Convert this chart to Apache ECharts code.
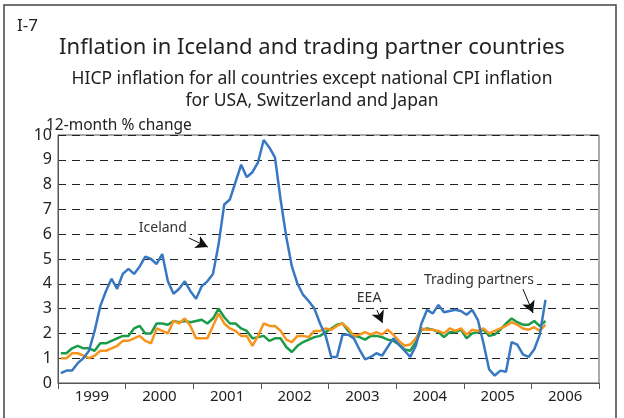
<!DOCTYPE html>
<html>
<head>
<meta charset="utf-8">
<script src="https://cdn.jsdelivr.net/npm/echarts@6/dist/echarts.min.js"></script>
<style>
  html, body { margin: 0; padding: 0; background: #fff; }
  #chart { width: 624px; height: 418px; }
</style>
</head>
<body>
<div id="chart"></div>
<script>
// years shown on the x axis
const years = ['1999', '2000', '2001', '2002', '2003', '2004', '2005', '2006'];
const yTicks = [0, 1, 2, 3, 4, 5, 6, 7, 8, 9, 10];

// monthly values, Jan 1999 - Mar 2006
const iceland = [
  0.4, 0.5, 0.5, 0.8, 1.0, 1.3, 2.1, 3.1, 3.7, 4.2,
  3.8, 4.4, 4.6, 4.4, 4.7, 5.1, 5.0, 4.8, 5.2, 4.1,
  3.6, 3.8, 4.1, 3.7, 3.4, 3.9, 4.1, 4.4, 5.6, 7.2,
  7.4, 8.1, 8.8, 8.3, 8.5, 8.9, 9.8, 9.5, 9.1, 7.4,
  5.9, 4.7, 4.0, 3.55, 3.3, 3.0, 2.4, 1.9, 1.05, 1.05,
  1.95, 1.95, 1.8, 1.35, 0.95, 1.05, 1.2, 1.1, 1.45, 1.8,
  1.55, 1.3, 1.05, 1.5, 2.4, 2.95, 2.8, 3.15, 2.85, 2.9,
  2.95, 2.9, 2.75, 2.95, 2.55, 1.6, 0.55, 0.3, 0.5, 0.45,
  1.65, 1.55, 1.15, 1.05, 1.35, 1.95, 3.35
];
const eea = [
  1.2, 1.2, 1.4, 1.5, 1.4, 1.4, 1.3, 1.6, 1.6, 1.7,
  1.8, 1.9, 1.9, 2.2, 2.3, 2.0, 2.0, 2.4, 2.4, 2.35,
  2.5, 2.45, 2.5, 2.45, 2.5, 2.55, 2.4, 2.6, 3.0, 2.65,
  2.4, 2.4, 2.2, 2.1, 1.8, 1.85, 1.9, 1.7, 1.8, 1.8,
  1.45, 1.25, 1.5, 1.65, 1.75, 1.85, 1.9, 2.05, 2.2, 2.35,
  2.4, 2.1, 1.9, 1.85, 1.75, 1.9, 1.9, 1.85, 1.75, 1.7,
  1.55, 1.35, 1.3, 1.65, 2.15, 2.2, 2.15, 2.05, 1.85, 2.05,
  2.05, 2.15, 1.8, 2.0, 2.05, 2.15, 1.9, 1.95, 2.15, 2.4,
  2.6, 2.45, 2.35, 2.35, 2.5, 2.3, 2.5
];
const partners = [
  1.0, 1.0, 1.2, 1.2, 1.1, 1.0, 1.1, 1.3, 1.3, 1.4,
  1.5, 1.7, 1.7, 1.8, 1.9, 1.7, 1.6, 2.2, 2.1, 2.0,
  2.5, 2.4, 2.6, 2.3, 1.8, 1.8, 1.8, 2.3, 2.8, 2.4,
  2.2, 2.1, 1.9, 1.9, 1.5, 1.9, 2.4, 2.3, 2.3, 2.1,
  1.75, 1.65, 1.9, 1.9, 1.85, 2.1, 2.1, 2.2, 2.15, 2.3,
  2.4, 2.2, 1.9, 1.95, 2.05, 1.95, 2.05, 1.95, 2.15, 1.95,
  1.7, 1.5, 1.55, 1.8, 2.2, 2.15, 2.15, 2.1, 2.0, 2.2,
  2.1, 2.2, 1.95, 2.15, 2.1, 2.2, 2.0, 2.1, 2.2, 2.3,
  2.45, 2.35, 2.2, 2.15, 2.25, 2.1, 2.35
];

const FONT = 'Noto Sans';
const toPoints = arr => arr.map((v, i) => [i + 0.5, v]);

// label annotation: text position and arrow (in months / percent)
function annotation(text, at, from, to) {
  return {
    markPoint: {
      symbol: 'rect', symbolSize: 1, silent: true,
      itemStyle: { color: 'rgba(0,0,0,0)' },
      label: {
        show: true, position: 'inside', formatter: text,
        fontFamily: FONT, fontSize: 14, color: '#333',
        backgroundColor: '#fff', padding: [0, 3]
      },
      data: [{ coord: at }]
    },
    markLine: {
      silent: true, symbol: ['none', 'arrow'], symbolSize: [10, 12],
      lineStyle: { color: '#111', width: 1, type: 'solid' },
      label: { show: false },
      data: [[{ coord: from }, { coord: to }]]
    }
  };
}

const chart = echarts.init(document.getElementById('chart'));
chart.setOption({
  animation: false,
  title: [
    { text: 'I-7', left: 12, top: 13, textStyle: { fontFamily: FONT, fontSize: 17, fontWeight: 'normal', color: '#222' } },
    { text: 'Inflation in Iceland and trading partner countries', left: 'center', top: 32,
      textStyle: { fontFamily: FONT, fontSize: 22, fontWeight: 'normal', color: '#222' } },
    { text: 'HICP inflation for all countries except national CPI inflation\nfor USA, Switzerland and Japan',
      left: 'center', top: 63,
      textStyle: { fontFamily: FONT, fontSize: 17.5, fontWeight: 'normal', color: '#222', lineHeight: 22, align: 'center' } },
    { text: '12-month % change', left: 41, top: 113, textStyle: { fontFamily: FONT, fontSize: 15.5, fontWeight: 'normal', color: '#222' } }
  ],
  graphic: [{
    type: 'rect', silent: true,
    shape: { x: 4, y: 5, width: 612, height: 430 },
    style: { fill: 'none', stroke: '#444', lineWidth: 1.5 }
  }],
  grid: { left: 58, right: 25, top: 135, bottom: 35, show: true, borderColor: '#555', borderWidth: 1 },
  xAxis: [
    {
      type: 'category', data: years, boundaryGap: true, position: 'bottom',
      axisLine: { lineStyle: { color: '#555', width: 1 } },
      axisTick: { show: true, length: 6, lineStyle: { color: '#555' } },
      axisLabel: { fontFamily: FONT, fontSize: 15, color: '#222', margin: 6 },
      splitLine: { show: false }
    },
    { type: 'value', min: 0, max: 96, show: false, splitLine: { show: false } }
  ],
  yAxis: {
    type: 'value', min: yTicks[0], max: yTicks[yTicks.length - 1], interval: 1,
    axisLine: { show: true, lineStyle: { color: '#555', width: 1 } },
    axisTick: { show: false },
    axisLabel: { fontFamily: FONT, fontSize: 16, color: '#222', margin: 6 },
    splitLine: { show: true, lineStyle: { color: '#222', width: 1, type: [8, 6] } }
  },
  series: [
    Object.assign({
      name: 'EEA', type: 'line', xAxisIndex: 1, data: toPoints(eea),
      showSymbol: false, lineStyle: { color: '#1a9b48', width: 2.5 }, z: 3
    }, annotation('EEA', [55.2, 3.43], [56.6, 2.94], [57.6, 2.42])),
    Object.assign({
      name: 'Trading partners', type: 'line', xAxisIndex: 1, data: toPoints(partners),
      showSymbol: false, lineStyle: { color: '#f7941d', width: 2.5 }, z: 4
    }, annotation('Trading partners', [74.7, 4.15], [82.5, 3.79], [84.3, 2.82])),
    Object.assign({
      name: 'Iceland', type: 'line', xAxisIndex: 1, data: toPoints(iceland),
      showSymbol: false, lineStyle: { color: '#3878c2', width: 2.5 }, z: 5
    }, annotation('Iceland', [18.6, 6.25], [23.2, 5.85], [26.6, 5.48]))
  ]
});
</script>
</body>
</html>
